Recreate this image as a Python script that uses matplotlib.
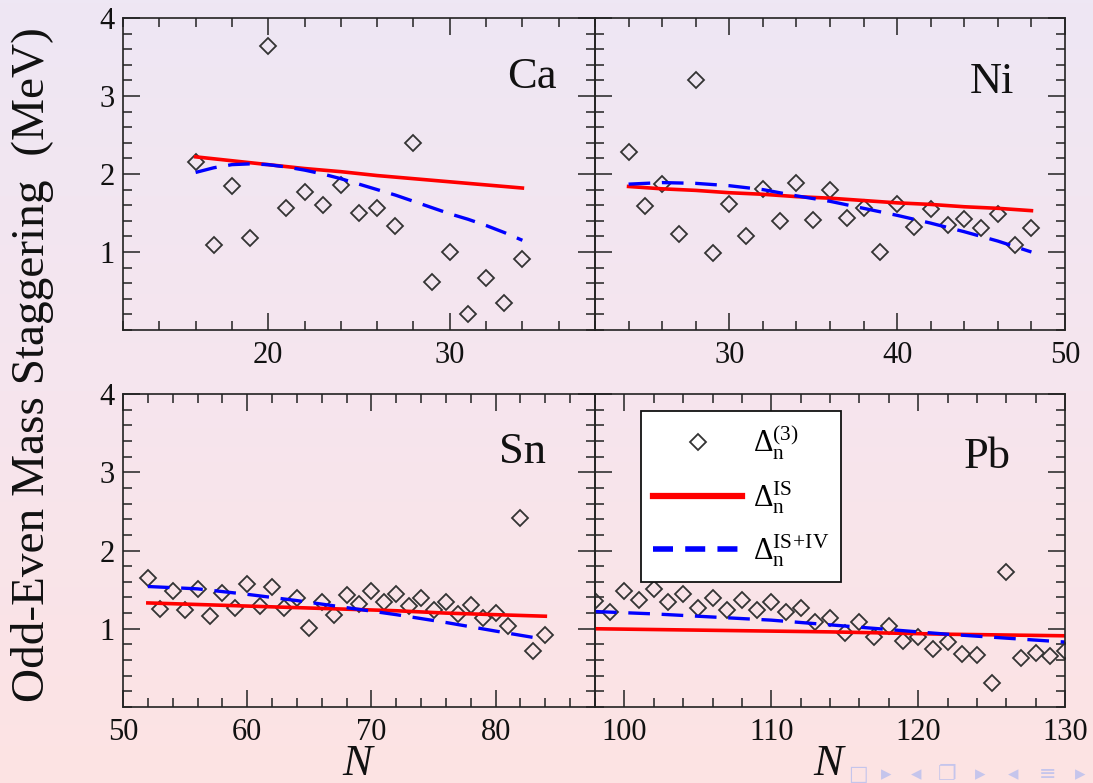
import numpy as np
import matplotlib
matplotlib.use("Agg")
import matplotlib.pyplot as plt
from matplotlib.lines import Line2D
from matplotlib.colors import LinearSegmentedColormap
from matplotlib.ticker import MultipleLocator

plt.rcParams["font.family"] = ["Liberation Serif", "DejaVu Serif"]
plt.rcParams["mathtext.fontset"] = "custom"
plt.rcParams["mathtext.rm"] = "Liberation Serif"
plt.rcParams["mathtext.it"] = "Liberation Serif:italic"

# odd-even staggering Delta_n^(3) per isotopic chain
ca_n = list(range(16, 35))
ca_d3 = [2.16, 1.09, 1.84, 1.18, 3.64, 1.56, 1.77, 1.60, 1.86, 1.50,
         1.56, 1.33, 2.40, 0.61, 1.00, 0.20, 0.67, 0.35, 0.91]
ni_n = list(range(24, 49))
ni_d3 = [2.28, 1.59, 1.87, 1.23, 3.20, 0.99, 1.61, 1.20, 1.81, 1.40,
         1.89, 1.41, 1.79, 1.43, 1.57, 1.00, 1.61, 1.32, 1.55, 1.35,
         1.42, 1.31, 1.49, 1.09, 1.31]
sn_n = list(range(52, 85))
sn_d3 = [1.65, 1.25, 1.48, 1.24, 1.51, 1.16, 1.46, 1.26, 1.57, 1.29,
         1.53, 1.26, 1.39, 1.01, 1.34, 1.18, 1.43, 1.32, 1.48, 1.34,
         1.45, 1.29, 1.39, 1.24, 1.34, 1.19, 1.30, 1.14, 1.20, 1.03,
         2.42, 0.72, 0.92]
pb_n = list(range(98, 131))
pb_d3 = [1.35, 1.22, 1.48, 1.37, 1.51, 1.34, 1.44, 1.26, 1.39, 1.24,
         1.37, 1.24, 1.34, 1.21, 1.26, 1.09, 1.14, 0.94, 1.08, 0.90,
         1.04, 0.84, 0.90, 0.74, 0.83, 0.68, 0.67, 0.31, 1.72, 0.63,
         0.69, 0.65, 0.72]

# isoscalar (IS) pairing results
ca_is_n = [16, 18, 20, 22, 24, 26, 28, 30, 32, 34]
ca_is = [2.22, 2.17, 2.12, 2.07, 2.03, 1.98, 1.94, 1.90, 1.86, 1.82]
ni_is_n = [24, 26, 28, 30, 32, 34, 36, 38, 40, 42, 44, 46, 48]
ni_is = [1.84, 1.81, 1.79, 1.76, 1.74, 1.71, 1.69, 1.66, 1.63, 1.61, 1.58, 1.56, 1.53]
sn_is_n = [52, 56, 60, 64, 68, 72, 76, 80, 84]
sn_is = [1.33, 1.31, 1.29, 1.27, 1.25, 1.23, 1.20, 1.18, 1.16]
pb_is_n = [98, 106, 114, 122, 130]
pb_is = [1.00, 0.98, 0.96, 0.93, 0.91]

# isoscalar + isovector (IS+IV) pairing results
ca_iv_n = [16, 17, 18, 19, 20, 21, 22, 23, 24, 25, 26, 27, 28, 29, 30, 31, 32, 33, 34]
ca_iv = [2.02, 2.08, 2.12, 2.13, 2.12, 2.09, 2.05, 2.00, 1.94, 1.87,
         1.80, 1.73, 1.65, 1.57, 1.49, 1.42, 1.34, 1.25, 1.15]
ni_iv_n = [24, 26, 28, 30, 32, 34, 36, 38, 40, 42, 44, 46, 48]
ni_iv = [1.87, 1.89, 1.88, 1.85, 1.80, 1.72, 1.65, 1.56, 1.47, 1.37, 1.26, 1.14, 1.00]
sn_iv_n = [52, 56, 60, 64, 68, 72, 76, 80, 83]
sn_iv = [1.54, 1.51, 1.44, 1.36, 1.27, 1.18, 1.08, 0.97, 0.89]
pb_iv_n = [98, 102, 106, 110, 114, 118, 122, 126, 130]
pb_iv = [1.22, 1.19, 1.15, 1.11, 1.05, 0.99, 0.93, 0.88, 0.83]

panels = [
    ("Ca", (12, 38), [20, 30], ca_n, ca_d3, ca_is_n, ca_is, ca_iv_n, ca_iv, (0.866, 0.81)),
    ("Ni", (22, 50), [30, 40, 50], ni_n, ni_d3, ni_is_n, ni_is, ni_iv_n, ni_iv, (0.845, 0.795)),
    ("Sn", (50, 88), [50, 60, 70, 80], sn_n, sn_d3, sn_is_n, sn_is, sn_iv_n, sn_iv, (0.847, 0.815)),
    ("Pb", (98, 130), [100, 110, 120, 130], pb_n, pb_d3, pb_is_n, pb_is, pb_iv_n, pb_iv, (0.834, 0.80)),
]

W, H = 1093, 783
fig = plt.figure(figsize=(W / 100, H / 100), dpi=100)

# slide background gradient
bg = fig.add_axes([0, 0, 1, 1], zorder=-10)
cmap = LinearSegmentedColormap.from_list("slide", ["#eee7f4", "#f6e5ee", "#fde3e3"])
bg.imshow(np.linspace(0, 1, 256).reshape(-1, 1), aspect="auto", cmap=cmap,
          extent=[0, 1, 0, 1])
bg.set_axis_off()

boxes = [
    (123, 18, 472, 312), (595, 18, 470, 312),
    (123, 394, 472, 313), (595, 394, 470, 313),
]

axes = []
for (px, py, pw, ph), panel in zip(boxes, panels):
    name, xlim, xmaj, n, d3, n_is, v_is, n_iv, v_iv, lab = panel
    ax = fig.add_axes([px / W, 1 - (py + ph) / H, pw / W, ph / H])
    ax.set_facecolor("none")
    ax.plot(n, d3, ls="none", marker="D", ms=8.5, mfc="none", mec="#333333", mew=1.3)
    ax.plot(n_is, v_is, color="#ff0000", lw=2.6)
    blue, = ax.plot(n_iv, v_iv, color="#0000ff", lw=2.4)
    blue.set_dashes([6.5, 3.5])
    ax.set_xlim(*xlim)
    ax.set_ylim(0, 4)
    ax.set_xticks(xmaj)
    ax.xaxis.set_minor_locator(MultipleLocator(2))
    ax.set_yticks([1, 2, 3, 4])
    ax.yaxis.set_minor_locator(MultipleLocator(0.2))
    ax.tick_params(which="both", direction="in", top=True, right=True,
                   width=1.1, colors="#222222", labelcolor="#111111", labelsize=22)
    ax.tick_params(which="major", length=12)
    ax.tick_params(which="minor", length=6.5)
    ax.tick_params(axis="x", pad=8)
    ax.tick_params(axis="y", pad=6)
    for sp in ax.spines.values():
        sp.set_linewidth(1.2)
        sp.set_color("#222222")
    if px > 200:
        ax.tick_params(axis="y", labelleft=False)
    ax.text(lab[0], lab[1], name, transform=ax.transAxes, fontsize=32,
            ha="center", va="center", color="#111111")
    axes.append(ax)

for ax in axes[2:]:
    ax.set_xlabel("$N$", fontsize=32, labelpad=-2, color="#111111")

handles = [
    Line2D([], [], ls="none", marker="D", ms=8.5, mfc="none", mec="#333333", mew=1.3),
    Line2D([], [], color="#ff0000", lw=4.5),
    Line2D([], [], color="#0000ff", lw=4.0, dashes=[3.6, 2.2]),
]
labels = [r"$\Delta_{\rm n}^{\rm (3)}$", r"$\Delta_{\rm n}^{\rm IS}$", r"$\Delta_{\rm n}^{\rm IS\!+\!IV}$"]
leg = axes[3].legend(handles, labels, loc="upper left", bbox_to_anchor=(0.098, 0.946),
                     fontsize=22, frameon=True, fancybox=False, framealpha=1,
                     edgecolor="#111111", handlelength=2.9, handletextpad=0.35,
                     borderpad=0.4, labelspacing=0.55, borderaxespad=0)
leg.get_frame().set_linewidth(1.3)

fig.text(33 / W, 1 - 365 / H, "Odd-Even Mass Staggering  (MeV)", rotation=90,
         fontsize=34, ha="center", va="center", color="#111111")

# beamer navigation symbols
nav_syms = ["\u25a1", "\u25b8", "\u25c2", "\u2750", "\u25b8", "\u25c2", "\u2261", "\u25b8"]
nav_x = [858, 886, 916, 947, 980, 1013, 1048, 1080]
for s, x in zip(nav_syms, nav_x):
    fig.text(x / W, 1 - 774 / H, s, fontsize=15, ha="center", va="center",
             color="#c5c5ec", family="DejaVu Sans")

fig.savefig("out.png", dpi=100)
